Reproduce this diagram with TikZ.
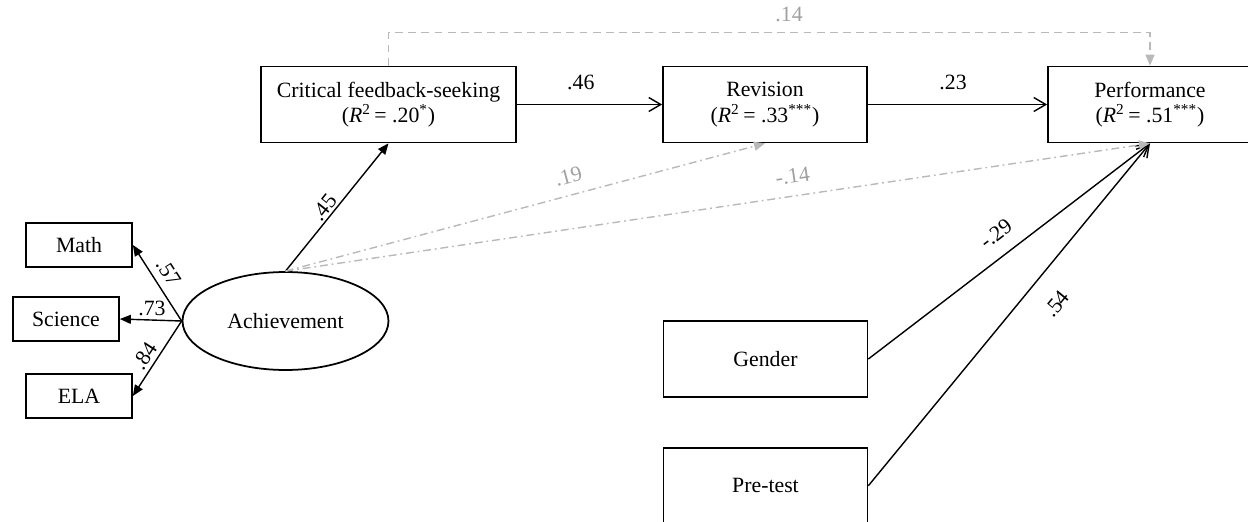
\documentclass[tikz,border=0pt]{standalone}
\usepackage{fontspec}
\setmainfont{Liberation Serif}
\usepackage{xcolor}
\usepackage{tikz}
\usetikzlibrary{positioning, shapes.geometric, arrows.meta}
\definecolor{nsgray}{RGB}{185,185,185}
\definecolor{nslabel}{RGB}{160,160,160}
\newcommand{\rsq}[1]{(\textit{R}\textsuperscript{2}\,= #1)}

\begin{document}
\begin{tikzpicture}[
        x=0.02cm, y=-0.02cm,
        every node/.style={font=\fontsize{12.4}{14.5}\selectfont},
        box/.style={rectangle, draw, line width=1pt, minimum width=4.08cm, minimum height=1.52cm, align=center},
        indicator/.style={rectangle, draw, line width=1pt, minimum width=2.12cm, minimum height=0.88cm},
        latent/.style={ellipse, draw, line width=1pt, minimum width=4.12cm, minimum height=1.96cm},
        arrow/.style={-{Straight Barb[length=2.4mm, width=2.8mm]}, line width=0.8pt},
        load/.style={-{Triangle[length=2.2mm, width=1.8mm]}, line width=0.8pt},
        nspath/.style={-{Triangle[length=2.2mm, width=1.8mm]}, nsgray, line width=0.8pt, dash pattern=on 4.5pt off 2.2pt on 1pt off 2.2pt},
        nsdash/.style={-{Triangle[length=2.2mm, width=1.8mm]}, nsgray, line width=0.8pt, dash pattern=on 4.5pt off 3pt},
        coef/.style={inner sep=2pt},
        nscoef/.style={coef, text=nslabel},
    ]
        \useasboundingbox (0,0) rectangle (1248,521);

        % Mediators and outcome
        \node[box, minimum width=5.1cm] (crit) at (388.5,104.5) {Critical feedback-seeking\\\rsq{.20\textsuperscript{*}}};
        \node[box] (rev) at (765,104.5) {Revision\\\rsq{.33\textsuperscript{***}}};
        \node[box] (perf) at (1150,104.5) {Performance\\\rsq{.51\textsuperscript{***}}};

        % Latent factor and indicators
        \node[latent] (ach) at (285.5,321) {Achievement};
        \node[indicator] (math) at (79,245) {Math};
        \node[indicator] (sci) at (66,319) {Science};
        \node[indicator] (ela) at (79,396) {ELA};

        % Covariates
        \node[box] (gen) at (765.5,359) {Gender};
        \node[box, below=0.98cm of gen] (pre) {Pre-test};

        % Loadings
        \draw[load] (ach.west) -- node[coef, pos=0.53, sloped, above=2pt] {.57} (math.east);
        \draw[load] (ach.west) -- node[coef, pos=0.48, above=0pt] {.73} (sci.east);
        \draw[load] (ach.west) -- node[coef, pos=0.55, sloped, above=0pt] {.84} (ela.east);

        % Significant paths
        \draw[load] (ach.north) -- node[coef, pos=0.45, sloped, above=0pt, inner sep=1pt] {.45} (crit.south);
        \draw[arrow] (crit) -- node[coef, pos=0.44, above=5.8pt] {.46} (rev);
        \draw[arrow] (rev) -- node[coef, pos=0.475, above=5.8pt] {.23} (perf);
        \draw[arrow] (gen.east) -- node[coef, pos=0.5, sloped, above=5.9pt] {-.29} (perf.south);
        \draw[arrow] (pre.east) -- node[coef, pos=0.587, sloped, below=10.5pt] {.54} (perf.south);

        % Non-significant paths
        \draw[nspath] (ach.north) -- node[nscoef, pos=0.6, sloped, above=3.9pt] {.19} (rev.south);
        \draw[nspath] (ach.north) -- node[nscoef, pos=0.59, sloped, above=4.6pt] {-.14} (perf.south);
        \draw[nsdash] (crit.north) -- ++(0,-33) -| node[nscoef, pos=0.263, above=3.5pt] {.14} (perf.north);

    \end{tikzpicture}
\end{document}
